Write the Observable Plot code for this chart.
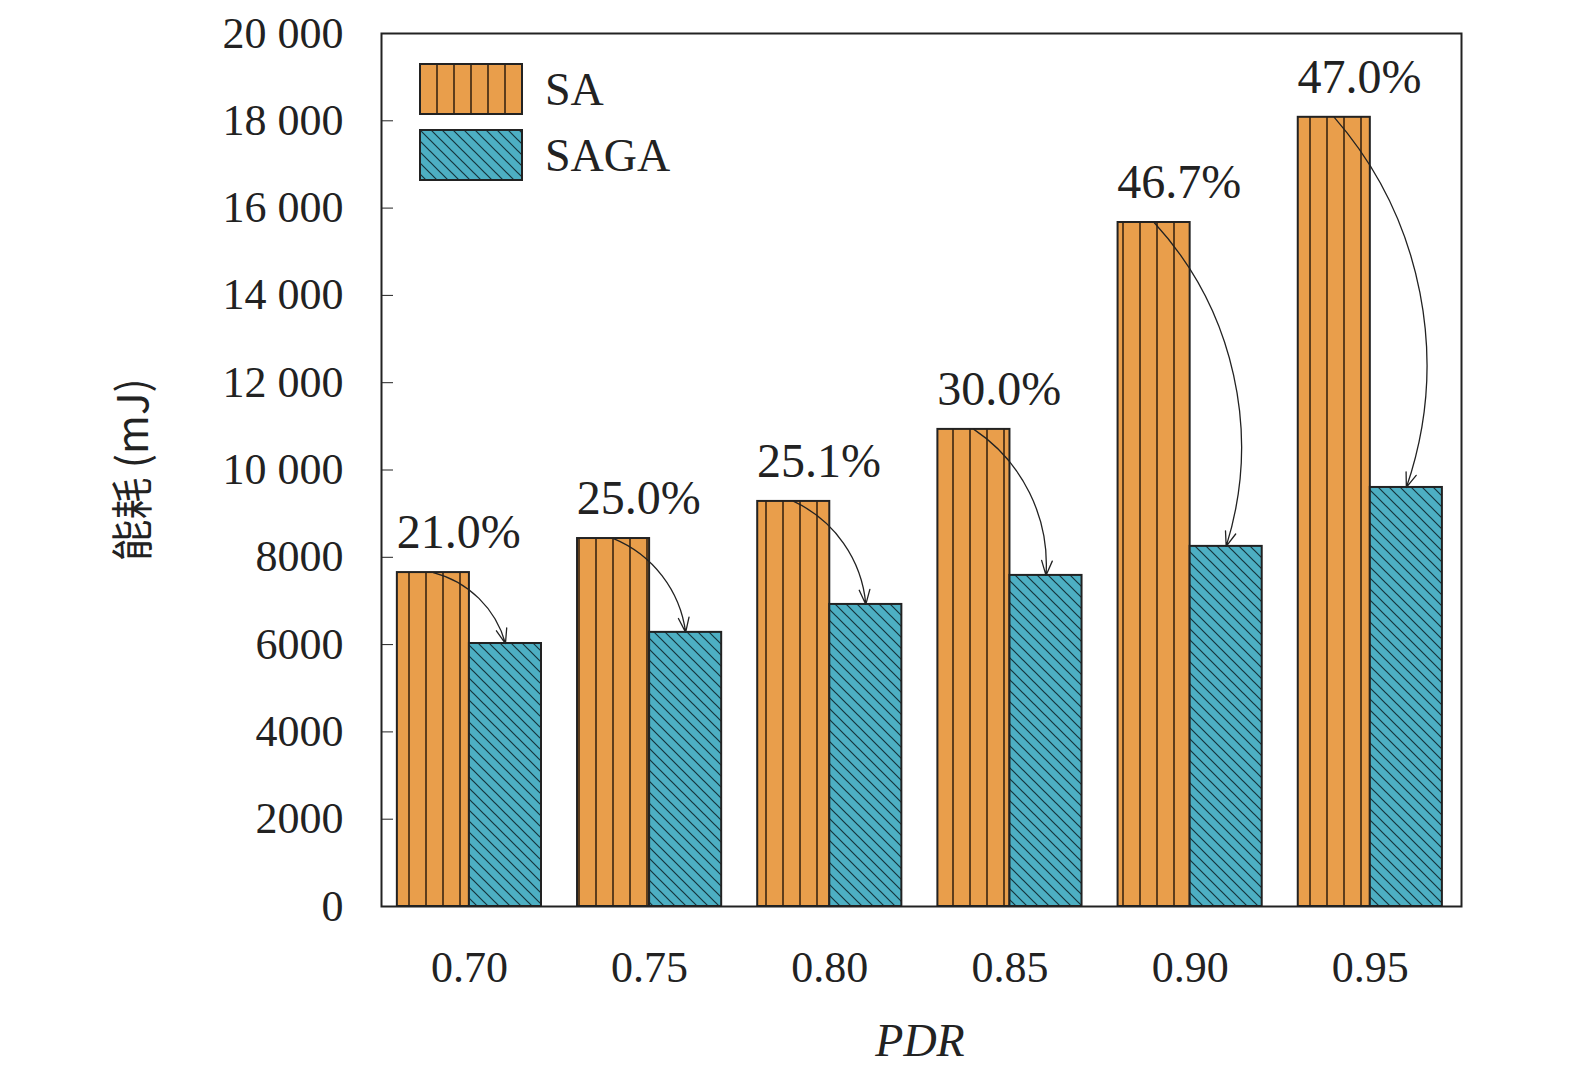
<!DOCTYPE html>
<html><head><meta charset="utf-8">
<script src="https://cdn.jsdelivr.net/npm/d3@7"></script>
<script src="https://cdn.jsdelivr.net/npm/@observablehq/plot@0.6"></script>
<style>body{margin:0;background:#fff}#wrap{position:relative;width:1575px;height:1084px}
#legend{position:absolute;left:419px;top:56px;font:46px "Liberation Serif";color:#222}
#legend div{display:flex;align-items:center;height:66px}#legend svg{margin-right:22px}</style>
</head><body><div id="wrap"><div id="chart"></div>
<div id="legend"><div><svg width="104" height="52"><rect x="1" y="1" width="102" height="50" fill="url(#pSA)" stroke="#222" stroke-width="2"/></svg>SA</div>
<div><svg width="104" height="52"><rect x="1" y="1" width="102" height="50" fill="url(#pSAGA)" stroke="#222" stroke-width="2"/></svg>SAGA</div></div></div>
<script>
const pdr = [0.70, 0.75, 0.80, 0.85, 0.90, 0.95];
const sa = [7650, 8430, 9280, 10930, 15670, 18080];
const saga = [6025, 6280, 6920, 7585, 8250, 9600];
const pct = ["21.0%", "25.0%", "25.1%", "30.0%", "46.7%", "47.0%"];
const yTicks = d3.range(0, 20001, 2000);
const half = 0.02;
const data = pdr.map((p, i) => ({p, sa: sa[i], saga: saga[i], pct: pct[i]}));
const fmt = v => v >= 10000 ? d3.format(",")(v).replace(",", " ") : String(v);
const plot = Plot.plot({
  width: 1575, height: 1084,
  marginLeft: 381, marginRight: 114, marginTop: 33, marginBottom: 178,
  style: {fontFamily: "Liberation Serif", fontSize: "44px", color: "#222"},
  x: {type: "linear", domain: [0.6756, 0.9753], ticks: pdr, tickFormat: d3.format(".2f"), tickSize: 0, tickPadding: 44, label: null},
  y: {domain: [0, 20000], ticks: yTicks, tickFormat: fmt, tickSize: -12, tickPadding: 50, label: null},
  marks: [
    Plot.rectY(data, {x1: d => d.p - half, x2: d => d.p, y: "sa", fill: "url(#pSA)", stroke: "#222", strokeWidth: 2}),
    Plot.rectY(data, {x1: d => d.p, x2: d => d.p + half, y: "saga", fill: "url(#pSAGA)", stroke: "#222", strokeWidth: 2}),
    Plot.arrow(data, {x1: d => d.p - 0.01, y1: "sa", x2: d => d.p + 0.01, y2: "saga", bend: 30, stroke: "#222", strokeWidth: 1.3, headLength: 18, headAngle: 40, insetEnd: 0}),
    Plot.text(data, {x: d => d.p - 0.003, y: "sa", text: "pct", dy: -40, fontSize: 48}),
    Plot.frame({stroke: "#222", strokeWidth: 2})
  ]
});
const svg = d3.select(plot);
const defs = svg.insert("defs", ":first-child");
const a = defs.append("pattern").attr("id", "pSA").attr("patternUnits", "userSpaceOnUse").attr("width", 17).attr("height", 10).attr("x", 2);
a.append("rect").attr("width", 17).attr("height", 10).attr("fill", "#E99E4B");
a.append("line").attr("x1", 16).attr("x2", 16).attr("y1", 0).attr("y2", 10).attr("stroke", "#3a2410").attr("stroke-width", 1.6);
const b = defs.append("pattern").attr("id", "pSAGA").attr("patternUnits", "userSpaceOnUse").attr("width", 11).attr("height", 11);
b.append("rect").attr("width", 11).attr("height", 11).attr("fill", "#4DAFC3");
b.append("path").attr("d", "M0,0L11,11M-5.5,5.5L5.5,16.5M5.5,-5.5L16.5,5.5").attr("stroke", "#14343c").attr("stroke-width", 1.2);
svg.append("text").attr("x", 920).attr("y", 1056).attr("text-anchor", "middle")
  .attr("font-family", "Liberation Serif").attr("font-style", "italic").attr("font-size", 46).attr("fill", "#222").text("PDR");
svg.append("text").attr("transform", "translate(148,470) rotate(-90)").attr("text-anchor", "middle")
  .attr("font-family", "Noto Sans CJK SC").attr("font-size", 42).attr("fill", "#222").text("能耗 (mJ)");
document.getElementById("chart").append(plot);
</script></body></html>
